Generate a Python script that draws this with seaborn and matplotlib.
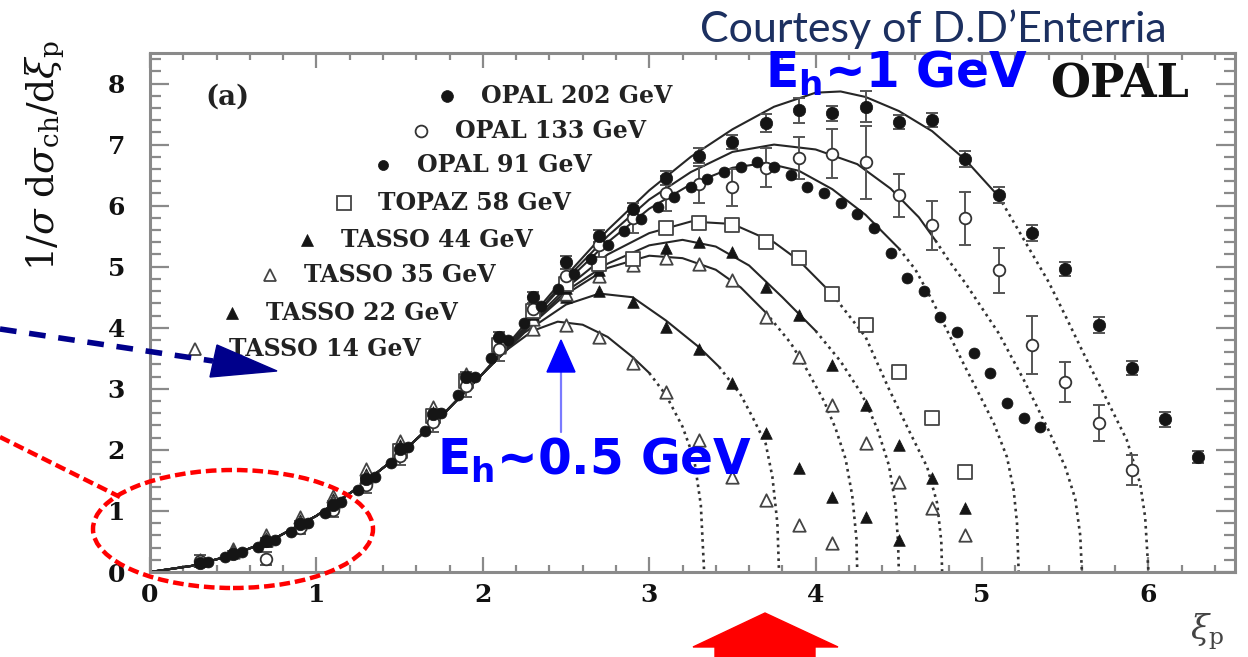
import numpy as np
import pandas as pd
import matplotlib
matplotlib.use("Agg")
import matplotlib.pyplot as plt
import seaborn as sns
from matplotlib.patches import Ellipse, Polygon
from matplotlib.lines import Line2D
from matplotlib.ticker import MultipleLocator

# ---------------------------------------------------------------- data
X_TICKS = [0, 1, 2, 3, 4, 5, 6]
Y_TICKS = [0, 1, 2, 3, 4, 5, 6, 7, 8]

# rising edge shared by all MLLA curves
RISE_XI = [0.0, 0.25, 0.5, 0.75, 1.0, 1.25, 1.5, 1.75, 2.0]
RISE_Y = [0.0, 0.1, 0.28, 0.55, 0.92, 1.38, 1.92, 2.55, 3.25]

# curve continuations beyond xi = 2
C14_XI = [2.15, 2.3, 2.45, 2.6, 2.75, 2.9, 3.0, 3.1, 3.2, 3.27, 3.31, 3.33]
C14_Y = [3.65, 3.95, 4.1, 4.05, 3.85, 3.52, 3.26, 2.9, 2.38, 1.85, 1.1, 0.0]
C22_XI = [2.25, 2.5, 2.7, 2.9, 3.1, 3.3, 3.42, 3.55, 3.62, 3.7, 3.74, 3.77, 3.78]
C22_Y = [3.92, 4.38, 4.56, 4.5, 4.12, 3.68, 3.36, 2.9, 2.54, 2.1, 1.56, 0.8, 0.0]
C35_XI = [2.25, 2.5, 2.75, 3.0, 3.2, 3.4, 3.55, 3.7, 3.85, 3.95, 4.05, 4.12, 4.18, 4.22, 4.245, 4.25]
C35_Y = [3.95, 4.55, 4.98, 5.18, 5.14, 4.95, 4.66, 4.25, 3.75, 3.3, 2.8, 2.35, 1.85, 1.25, 0.55, 0.0]
C44_XI = [2.25, 2.5, 2.75, 3.0, 3.2, 3.4, 3.6, 3.8, 4.0, 4.15, 4.28, 4.37, 4.44, 4.48, 4.495, 4.5]
C44_Y = [3.95, 4.6, 5.05, 5.35, 5.44, 5.33, 5.02, 4.5, 3.95, 3.45, 2.9, 2.35, 1.75, 1.1, 0.5, 0.0]
C58_XI = [2.25, 2.5, 2.75, 3.0, 3.25, 3.5, 3.75, 3.9, 4.1, 4.3, 4.44, 4.56, 4.67, 4.73, 4.755, 4.76]
C58_Y = [3.98, 4.65, 5.2, 5.55, 5.74, 5.7, 5.4, 5.1, 4.55, 3.85, 3.0, 2.32, 1.72, 1.13, 0.5, 0.0]
C91_XI = [2.25, 2.5, 2.75, 3.0, 3.25, 3.5, 3.7, 3.9, 4.1, 4.3, 4.5, 4.6, 4.7, 4.8, 4.9, 4.97,
          5.07, 5.15, 5.19, 5.21, 5.22]
C91_Y = [4.0, 4.75, 5.4, 5.95, 6.35, 6.62, 6.7, 6.57, 6.27, 5.85, 5.3, 4.95, 4.45, 3.9, 3.35, 2.98,
         2.44, 1.88, 1.34, 0.8, 0.0]
C133_XI = [2.25, 2.5, 2.75, 3.0, 3.25, 3.5, 3.75, 4.0, 4.25, 4.45, 4.62, 4.72, 4.8, 4.9, 5.0, 5.1,
           5.25, 5.4, 5.5, 5.56, 5.59, 5.6]
C133_Y = [4.0, 4.8, 5.5, 6.1, 6.55, 6.88, 7.0, 6.92, 6.68, 6.28, 5.81, 5.43, 5.1, 4.73, 4.32, 3.91,
          3.15, 2.32, 1.72, 1.2, 0.6, 0.0]
C202_XI = [2.25, 2.5, 2.75, 3.0, 3.25, 3.5, 3.75, 4.0, 4.15, 4.3, 4.5, 4.7, 4.9, 5.1, 5.25, 5.4,
           5.5, 5.61, 5.75, 5.87, 5.95, 5.98, 6.0]
C202_Y = [4.05, 4.85, 5.6, 6.25, 6.8, 7.25, 7.62, 7.85, 7.87, 7.78, 7.55, 7.22, 6.75, 6.15, 5.45, 4.75,
          4.2, 3.58, 2.82, 2.16, 1.45, 0.9, 0.0]
# end of the fitted range of each curve (dotted beyond)
FIT_END = [3.0, 3.42, 3.7, 4.0, 4.1, 4.5, 4.72, 5.1]

OPAL202_XI = [0.3, 0.5, 0.7, 0.9, 1.1, 1.3, 1.5, 1.7, 1.9, 2.1, 2.3, 2.5, 2.7, 2.9, 3.1, 3.3, 3.5,
              3.7, 3.9, 4.1, 4.3, 4.5, 4.7, 4.9, 5.1, 5.3, 5.5, 5.7, 5.9, 6.1, 6.3]
OPAL202_Y = [0.14, 0.3, 0.5, 0.78, 1.1, 1.52, 2.02, 2.58, 3.2, 3.85, 4.5, 5.07, 5.5, 5.95, 6.45, 6.82,
             7.04, 7.35, 7.56, 7.51, 7.62, 7.37, 7.4, 6.76, 6.17, 5.55, 4.96, 4.04, 3.34, 2.5, 1.88]
OPAL202_ERR = [0.03, 0.04, 0.05, 0.05, 0.06, 0.06, 0.07, 0.07, 0.08, 0.08, 0.09, 0.1, 0.1, 0.1, 0.11,
               0.12, 0.12, 0.15, 0.2, 0.12, 0.25, 0.12, 0.12, 0.13, 0.13, 0.13, 0.12, 0.13, 0.12,
               0.12, 0.1]

OPAL133_XI = [0.3, 0.7, 0.9, 1.1, 1.3, 1.5, 1.7, 1.9, 2.1, 2.3, 2.5, 2.7, 2.9, 3.1, 3.3, 3.5, 3.7,
              3.9, 4.1, 4.3, 4.5, 4.7, 4.9, 5.1, 5.3, 5.5, 5.7, 5.9]
OPAL133_Y = [0.18, 0.22, 0.72, 1.02, 1.42, 1.9, 2.45, 3.05, 3.65, 4.3, 4.85, 5.35, 5.8, 6.2, 6.35,
             6.3, 6.62, 6.78, 6.85, 6.71, 6.17, 5.68, 5.79, 4.94, 3.72, 3.11, 2.44, 1.67]
OPAL133_ERR = [0.1, 0.1, 0.1, 0.12, 0.12, 0.15, 0.15, 0.18, 0.2, 0.2, 0.22, 0.25, 0.25, 0.28, 0.3,
               0.3, 0.32, 0.35, 0.4, 0.6, 0.35, 0.4, 0.43, 0.37, 0.47, 0.33, 0.3, 0.25]

OPAL91_XI = [0.35, 0.45, 0.55, 0.65, 0.75, 0.85, 0.95, 1.05, 1.15, 1.25, 1.35, 1.45, 1.55, 1.65,
             1.75, 1.85, 1.95, 2.05, 2.15, 2.25, 2.35, 2.45, 2.55, 2.65, 2.75, 2.85, 2.95, 3.05,
             3.15, 3.25, 3.35, 3.45, 3.55, 3.65, 3.75, 3.85, 3.95, 4.05, 4.15, 4.25, 4.35, 4.45,
             4.55, 4.65, 4.75, 4.85, 4.95, 5.05, 5.15, 5.25, 5.35]
OPAL91_Y = [0.17, 0.24, 0.32, 0.41, 0.52, 0.65, 0.8, 0.96, 1.14, 1.34, 1.56, 1.79, 2.04, 2.31,
            2.6, 2.9, 3.2, 3.5, 3.8, 4.08, 4.36, 4.63, 4.88, 5.12, 5.36, 5.58, 5.78, 5.97,
            6.14, 6.3, 6.43, 6.55, 6.63, 6.71, 6.63, 6.5, 6.3, 6.2, 6.04, 5.87, 5.63, 5.22,
            4.81, 4.61, 4.17, 3.93, 3.58, 3.26, 2.76, 2.52, 2.37]

TOPAZ58_XI = [1.5, 1.7, 1.9, 2.1, 2.3, 2.5, 2.7, 2.9, 3.1, 3.3, 3.5, 3.7, 3.9, 4.1, 4.3, 4.5, 4.7, 4.9]
TOPAZ58_Y = [1.98, 2.55, 3.12, 3.72, 4.28, 4.72, 5.05, 5.12, 5.63, 5.71, 5.68, 5.4, 5.14, 4.56,
             4.05, 3.27, 2.52, 1.63]

TASSO44_XI = [0.7, 0.9, 1.1, 1.3, 1.5, 1.7, 1.9, 2.1, 2.3, 2.5, 2.7, 2.9, 3.1, 3.3, 3.5, 3.7, 3.9,
              4.1, 4.3, 4.5, 4.7, 4.9]
TASSO44_Y = [0.5, 0.78, 1.1, 1.5, 1.98, 2.52, 3.1, 3.7, 4.22, 4.65, 4.95, 5.15, 5.3, 5.4, 5.24,
             4.66, 4.21, 3.39, 2.73, 2.08, 1.54, 1.05]

TASSO35_XI = [0.5, 0.7, 0.9, 1.1, 1.3, 1.5, 1.7, 1.9, 2.1, 2.3, 2.5, 2.7, 2.9, 3.1, 3.3, 3.5, 3.7,
              3.9, 4.1, 4.3, 4.5, 4.7, 4.9]
TASSO35_Y = [0.32, 0.52, 0.8, 1.14, 1.55, 2.02, 2.56, 3.12, 3.68, 4.15, 4.55, 4.85, 5.02, 5.15,
             5.05, 4.78, 4.17, 3.52, 2.73, 2.11, 1.47, 1.05, 0.61]

TASSO22_XI = [0.5, 0.7, 0.9, 1.1, 1.3, 1.5, 1.7, 1.9, 2.1, 2.3, 2.5, 2.7, 2.9, 3.1, 3.3, 3.5, 3.7,
              3.9, 4.1, 4.3, 4.5]
TASSO22_Y = [0.35, 0.56, 0.85, 1.2, 1.6, 2.08, 2.62, 3.18, 3.72, 4.2, 4.5, 4.6, 4.42, 4.01, 3.66,
             3.09, 2.27, 1.7, 1.23, 0.9, 0.52]

TASSO14_XI = [0.3, 0.5, 0.7, 0.9, 1.1, 1.3, 1.5, 1.7, 1.9, 2.1, 2.3, 2.5, 2.7, 2.9, 3.1, 3.3, 3.5,
              3.7, 3.9, 4.1]
TASSO14_Y = [0.2, 0.38, 0.6, 0.9, 1.25, 1.68, 2.15, 2.7, 3.25, 3.7, 3.98, 4.05, 3.85, 3.42, 2.94,
             2.16, 1.55, 1.18, 0.77, 0.48]

LEGEND_LABELS = ["OPAL 202 GeV", "OPAL 133 GeV", "OPAL 91 GeV", "TOPAZ 58 GeV",
                 "TASSO 44 GeV", "TASSO 35 GeV", "TASSO 22 GeV", "TASSO 14 GeV"]

# ---------------------------------------------------------------- figure
sns.set_theme(style="ticks")
plt.rcParams["font.family"] = ["DejaVu Serif"]
plt.rcParams["mathtext.fontset"] = "dejavuserif"

W, H = 1248, 657
fig = plt.figure(figsize=(W / 100, H / 100), dpi=100)
fig.patch.set_facecolor("white")


def fx(px):
    return px / W


def fy(py):
    return 1 - py / H


ax = fig.add_axes([fx(150), fy(572), (1235 - 150) / W, (572 - 53) / H])
ax.set_facecolor("white")

INK = "#151515"

# fitted curves: solid inside the fit range, dotted outside
curves = [(C14_XI, C14_Y), (C22_XI, C22_Y), (C35_XI, C35_Y), (C44_XI, C44_Y),
          (C58_XI, C58_Y), (C91_XI, C91_Y), (C133_XI, C133_Y), (C202_XI, C202_Y)]
for (cx, cy), end in zip(curves, FIT_END):
    xs = np.array(RISE_XI + cx)
    ys = np.array(RISE_Y + cy)
    solid = xs <= end
    last = xs[solid][-1]
    dotted = xs >= last
    sns.lineplot(x=xs[solid], y=ys[solid], ax=ax, color="#262626", lw=1.5,
                 sort=False, estimator=None, zorder=2)
    sns.lineplot(x=xs[dotted], y=ys[dotted], ax=ax, color="#333333", lw=1.9,
                 linestyle=(0, (1.0, 1.6)), sort=False, estimator=None, zorder=2)

# error bars
for ex, ey, ee in [(OPAL202_XI, OPAL202_Y, OPAL202_ERR), (OPAL133_XI, OPAL133_Y, OPAL133_ERR)]:
    ax.errorbar(ex, ey, yerr=ee, fmt="none", ecolor="#555555", elinewidth=1.4,
                capsize=4.5, capthick=1.4, zorder=3)

# marker styles per data set
styles = {
    "OPAL 202 GeV": dict(marker="o", s=80, color=INK, edgecolor=INK, linewidth=0.5),
    "OPAL 133 GeV": dict(marker="o", s=70, color="white", edgecolor="#333333", linewidth=1.3),
    "OPAL 91 GeV": dict(marker="o", s=62, color=INK, edgecolor=INK, linewidth=0.5),
    "TOPAZ 58 GeV": dict(marker="s", s=95, color="white", edgecolor="#444444", linewidth=1.3),
    "TASSO 44 GeV": dict(marker="^", s=70, color=INK, edgecolor=INK, linewidth=0.5),
    "TASSO 35 GeV": dict(marker="^", s=80, color="white", edgecolor="#444444", linewidth=1.3),
    "TASSO 22 GeV": dict(marker="^", s=70, color=INK, edgecolor=INK, linewidth=0.5),
    "TASSO 14 GeV": dict(marker="^", s=80, color="white", edgecolor="#444444", linewidth=1.3),
}
series = {
    "TASSO 14 GeV": (TASSO14_XI, TASSO14_Y),
    "TASSO 22 GeV": (TASSO22_XI, TASSO22_Y),
    "TASSO 35 GeV": (TASSO35_XI, TASSO35_Y),
    "TASSO 44 GeV": (TASSO44_XI, TASSO44_Y),
    "TOPAZ 58 GeV": (TOPAZ58_XI, TOPAZ58_Y),
    "OPAL 133 GeV": (OPAL133_XI, OPAL133_Y),
    "OPAL 91 GeV": (OPAL91_XI, OPAL91_Y),
    "OPAL 202 GeV": (OPAL202_XI, OPAL202_Y),
}
for name, (sx, sy) in series.items():
    df = pd.DataFrame({"xi": sx, "y": sy})
    sns.scatterplot(data=df, x="xi", y="y", ax=ax, zorder=4, legend=False, **styles[name])

# staggered legend
leg_marker_px = [447, 421, 383, 344, 307, 270, 232, 195]
leg_row_py = [96, 131, 165, 203, 240, 275, 313, 349]
leg_ms = {"o": 8.5, "s": 10, "^": 9}
for label, mx, my in zip(LEGEND_LABELS, leg_marker_px, leg_row_py):
    st = styles[label]
    ax_x = (mx - 150) / 1085
    ax_y = (572 - my) / 519
    ms = leg_ms[st["marker"]] * (0.85 if label == "OPAL 91 GeV" else 1.0)
    ax.plot([ax_x], [ax_y], transform=ax.transAxes, marker=st["marker"], ms=ms,
            mfc=st["color"], mec=st["edgecolor"], mew=st["linewidth"], ls="none",
            clip_on=False, zorder=5)
    ax.text(ax_x + 34 / 1085, ax_y, label, transform=ax.transAxes, ha="left", va="center",
            fontsize=17, fontweight="bold", color="#222222", zorder=5)

# axes
ax.set_xlim(0, 6.52)
ax.set_ylim(0, 8.5)
ax.set_xticks(X_TICKS)
ax.set_xticklabels([str(t) for t in X_TICKS], fontweight="bold", fontsize=18, color="#111111")
ax.set_yticks(Y_TICKS)
ax.set_yticklabels([str(t) for t in Y_TICKS], fontweight="bold", fontsize=18, color="#111111")
ax.xaxis.set_minor_locator(MultipleLocator(0.2))
ax.yaxis.set_minor_locator(MultipleLocator(0.2))
ax.tick_params(which="both", direction="in", top=True, right=True, color="#8a8a8a", width=1.6)
ax.tick_params(axis="x", which="major", length=11, pad=8)
ax.tick_params(axis="x", which="minor", length=5)
ax.tick_params(axis="y", which="major", length=14, pad=18)
ax.tick_params(axis="y", which="minor", length=8)
for sp in ax.spines.values():
    sp.set_color("#8a8a8a")
    sp.set_linewidth(2.2)
ax.set_xlabel("")
ax.set_ylabel("")

# axis titles and labels
fig.text(fx(45), fy(156), r"$\mathrm{1/}\sigma\ \mathrm{d}\sigma_{\mathrm{ch}}\mathrm{/d}\xi_{\mathrm{p}}$",
         rotation=90, ha="center", va="center", fontsize=27, color="#111111")
fig.text(fx(1190), fy(632), r"$\xi_{\mathrm{p}}$", ha="left", va="center", fontsize=24, color="#444444")
fig.text(fx(205), fy(97), "(a)", ha="left", va="center", fontsize=20, fontweight="bold", color="#222222")
fig.text(fx(1050), fy(98), "OPAL", ha="left", va="baseline", fontsize=33, fontweight="bold", color="#111111")

# annotations
fig.text(fx(700), fy(29), "Courtesy of D.D\u2019Enterria", ha="left", va="center",
         fontsize=31, color="#1c3060", family=["Lato", "DejaVu Sans"])
fig.text(fx(765), fy(88), r"E$_{\mathbf{h}}$~1 GeV", ha="left", va="baseline", fontsize=35,
         fontweight="bold", color="#0000ff", family=["DejaVu Sans"], math_fontfamily="dejavusans")
fig.text(fx(437), fy(475), r"E$_{\mathbf{h}}$~0.5 GeV", ha="left", va="baseline", fontsize=35,
         fontweight="bold", color="#0000ff", family=["DejaVu Sans"], math_fontfamily="dejavusans")

# small blue arrow to the 14 GeV peak
fig.add_artist(Line2D([fx(561), fx(561)], [fy(432), fy(370)], transform=fig.transFigure,
                      color="#7a7aff", lw=1.6, zorder=6))
fig.add_artist(Polygon([(fx(547), fy(372)), (fx(575), fy(372)), (fx(561), fy(340))],
                       closed=True, transform=fig.transFigure, color="#0000ff", zorder=6))

# dashed navy arrow from the left
fig.add_artist(Line2D([fx(0), fx(213)], [fy(329), fy(361)], transform=fig.transFigure,
                      color="#00008b", lw=4, linestyle=(0, (3.0, 2.3)), zorder=6))
fig.add_artist(Polygon([(fx(217), fy(345)), (fx(277), fy(371)), (fx(210), fy(377))],
                       closed=True, transform=fig.transFigure, color="#00008b", zorder=6))

# red dashed ellipse around the low-xi region
fig.add_artist(Ellipse((fx(233), fy(529)), 280 / W, 118 / H, transform=fig.transFigure,
                       fill=False, edgecolor="#ff0000", lw=3.2, linestyle=(0, (2.4, 1.1)), zorder=6))
fig.add_artist(Line2D([fx(0), fx(120)], [fy(437), fy(497)], transform=fig.transFigure,
                      color="#ff0000", lw=3.2, linestyle=(0, (2.4, 1.1)), zorder=6))

# red block arrow at the bottom
fig.add_artist(Polygon([(fx(715), fy(662)), (fx(715), fy(647)), (fx(693), fy(647)), (fx(765), fy(613)),
                        (fx(838), fy(647)), (fx(815), fy(647)), (fx(815), fy(662))],
                       closed=True, transform=fig.transFigure, color="#ff0000", zorder=6))

fig.savefig("out.png", dpi=100, facecolor="white")
